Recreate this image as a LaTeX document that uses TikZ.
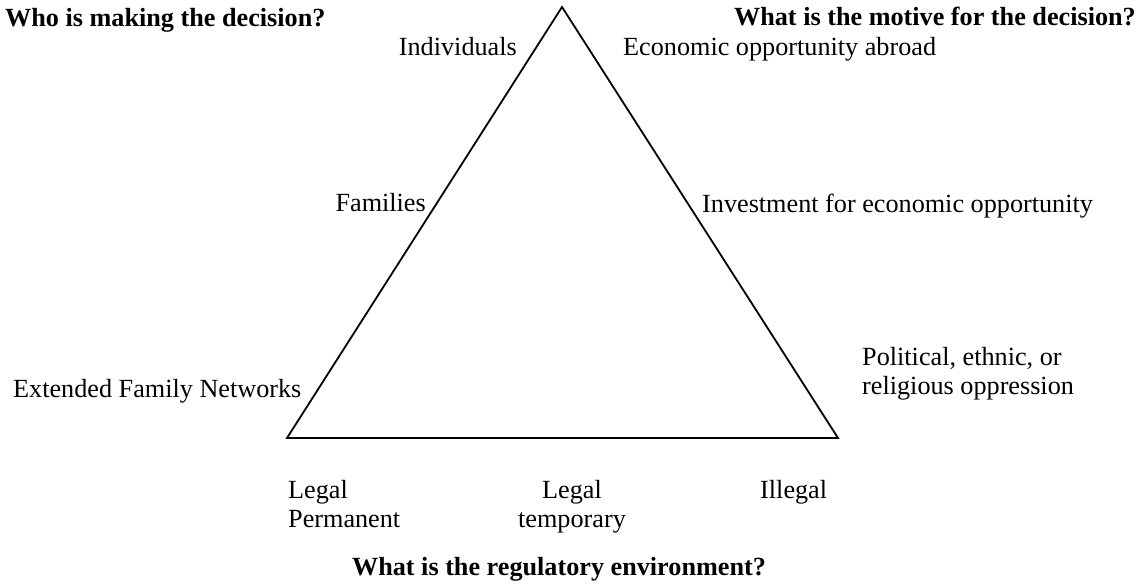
\documentclass[tikz,border=0pt]{standalone}
\usepackage{fontspec}
\setmainfont{Liberation Serif}
\begin{document}
\begin{tikzpicture}[x=1pt,y=-1pt,
  lbl/.style={inner sep=0pt,font=\fontsize{26.2}{29.5}\selectfont},
  ttl/.style={inner sep=0pt,font=\fontsize{26.2}{29.5}\selectfont\bfseries},
  edge/.style={draw=black,line width=1.8pt,line join=miter}]
\useasboundingbox (0,0) rectangle (1141,586);
\coordinate (apex) at (562,7);
\coordinate (bl) at (287,438);
\coordinate (br) at (838,438);
\draw[edge] (apex) -- (bl) -- (br) -- cycle;
\node[ttl,anchor=base west] (who) at (5,27) {Who is making the decision?};
\node[ttl,anchor=base east] (what) at (1136,26) {What is the motive for the decision?};
\node[lbl,anchor=base east] (ind) at (517,56) {Individuals};
\node[lbl,anchor=base west] (eco) at (623,56) {Economic opportunity abroad};
\node[lbl,anchor=base east] (fam) at (426,211) {Families};
\node[lbl,anchor=base west] (inv) at (702,212) {Investment for economic opportunity};
\node[lbl,anchor=base west] (pol) at (862,365) {\begin{tabular}[t]{@{}l@{}}Political, ethnic, or\\religious oppression\end{tabular}};
\node[lbl,anchor=base west] (ext) at (13,397) {Extended Family Networks};
\node[lbl,anchor=base west] (lp) at (288,498) {\begin{tabular}[t]{@{}l@{}}Legal\\Permanent\end{tabular}};
\node[lbl,anchor=base] (lt) at (572,498) {\begin{tabular}[t]{@{}c@{}}Legal\\temporary\end{tabular}};
\node[lbl,anchor=base west] (ill) at (760,498) {Illegal};
\node[ttl,anchor=base] (reg) at (559,575) {What is the regulatory environment?};
\end{tikzpicture}
\end{document}
